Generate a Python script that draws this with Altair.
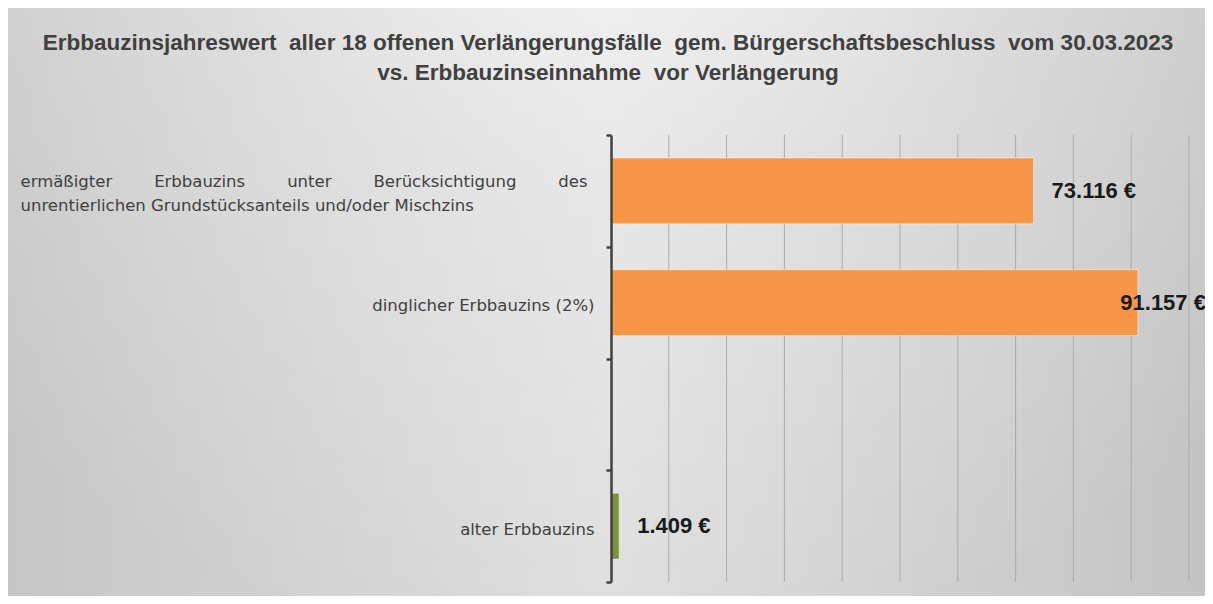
import json
import altair as alt
import pandas as pd

# --- data -------------------------------------------------------------
kategorien = [
    "ermäßigter Erbbauzins unter Berücksichtigung des unrentierlichen Grundstücksanteils und/oder Mischzins",
    "dinglicher Erbbauzins (2%)",
    " ",
    "alter Erbbauzins",
]
balken_kategorie = [kategorien[0], kategorien[1], kategorien[3]]
balken_wert = [73116, 91157, 1409]
balken_serie = ["neu", "neu", "alt"]
gitter_werte = [10000, 20000, 30000, 40000, 50000, 60000, 70000, 80000, 90000, 100000]

titel = [
    "Erbbauzinsjahreswert\u00a0 aller 18 offenen Verlängerungsfälle\u00a0 gem. Bürgerschaftsbeschluss\u00a0 vom 30.03.2023",
    "vs. Erbbauzinseinnahme\u00a0 vor Verlängerung",
]

# --- styling ----------------------------------------------------------
W, H = 578, 447
PL, PT, PR, PB = 603, 127, 16, 14
ORANGE = "#F79646"
GRUEN = "#77933C"
TXT = "#404040"
LABEL_FONT = "DejaVu Sans"
BOLD_FONT = "Liberation Sans"

gap = "\u00a0" * 8
line1 = gap.join(["ermäßigter", "Erbbauzins", "unter", "Berücksichtigung", "des"])
line2 = "unrentierlichen Grundstücksanteils und/oder Mischzins"
first = json.dumps(kategorien[0])
test_first = f"datum.value == {first}"
label_expr = f"{test_first} ? {json.dumps([line1, line2])} : datum.label"

df = pd.DataFrame({"kategorie": balken_kategorie, "wert": balken_wert, "serie": balken_serie})
grid_df = pd.DataFrame({"g": gitter_werte})
bg_df = pd.DataFrame({"d": [0]})

x_scale = alt.Scale(domain=[0, 100000], nice=False, zero=True)
y_scale = alt.Scale(domain=kategorien, paddingInner=0, paddingOuter=0)

bg_lin = alt.Chart(bg_df).mark_rect(
    fill=alt.Gradient(
        gradient="linear", x1=0, x2=1, y1=0, y2=0,
        stops=[alt.GradientStop(color="#c6c6c6", offset=0),
               alt.GradientStop(color="#dedede", offset=0.5),
               alt.GradientStop(color="#c4c4c4", offset=1)],
    )
).encode(x=alt.value(-PL), x2=alt.value(W + PR), y=alt.value(-PT), y2=alt.value(H + PB))

bg_rad = alt.Chart(bg_df).mark_rect(
    fill=alt.Gradient(
        gradient="radial", x1=0.5, y1=0.0, r1=0, x2=0.5, y2=0.0, r2=0.8,
        stops=[alt.GradientStop(color="rgba(255,255,255,0.85)", offset=0),
               alt.GradientStop(color="rgba(255,255,255,0.3)", offset=0.5),
               alt.GradientStop(color="rgba(255,255,255,0)", offset=1)],
    )
).encode(x=alt.value(-PL), x2=alt.value(W + PR), y=alt.value(-PT), y2=alt.value(H + PB))

grid = alt.Chart(grid_df).mark_rule(color="#ababab", strokeWidth=1).encode(
    x=alt.X("g:Q", scale=x_scale, axis=None)
)

bars = alt.Chart(df).mark_bar(
    height=alt.RelativeBandSize(0.59), stroke="white", strokeOpacity=0.5, strokeWidth=1
).encode(
    x=alt.X("wert:Q", scale=x_scale, axis=None),
    y=alt.Y(
        "kategorie:N",
        scale=y_scale,
        sort=kategorien,
        axis=alt.Axis(
            title=None,
            grid=False,
            domainColor=TXT,
            domainWidth=2.5,
            tickColor=TXT,
            tickWidth=2.5,
            tickSize=5,
            tickBand="extent",
            labelFont=LABEL_FONT,
            labelFontSize=16.5,
            labelColor=TXT,
            labelLimit=700,
            labelLineHeight=24,
            labelExpr=label_expr,
            labelAlign={"condition": {"test": test_first, "value": "left"}, "value": "right"},
            labelPadding={"condition": {"test": test_first, "value": 586}, "value": 12},
            labelOffset={"condition": {"test": test_first, "value": -9}, "value": 3},
            zindex=1,
        ),
    ),
    color=alt.Color("serie:N", scale=alt.Scale(domain=["neu", "alt"], range=[ORANGE, GRUEN]), legend=None),
)

texts = alt.Chart(df).transform_calculate(
    pos="min(datum.wert, 85000)",
    txt="replace(format(datum.wert, ','), ',', '.') + ' €'",
).mark_text(
    align="left", baseline="middle", dx=18, font=BOLD_FONT, fontSize=22, fontWeight="bold", color="#1a1a1a"
).encode(
    x=alt.X("pos:Q", scale=x_scale, axis=None),
    y=alt.Y("kategorie:N", scale=y_scale, sort=kategorien),
    text="txt:N",
)

chart = alt.layer(bg_lin, bg_rad, grid, bars, texts).properties(
    width=W,
    height=H,
    autosize=alt.AutoSizeParams(type="none"),
    padding={"left": PL, "top": PT, "right": PR, "bottom": PB},
    title=alt.TitleParams(
        text=titel,
        font=BOLD_FONT,
        fontSize=22.5,
        fontWeight="bold",
        color=TXT,
        lineHeight=30,
        anchor="middle",
        baseline="bottom",
        dx=-292,
        offset=-99,
    ),
).configure_view(stroke=None)

chart.save("out.html", embed_options={"renderer": "svg", "actions": False})
